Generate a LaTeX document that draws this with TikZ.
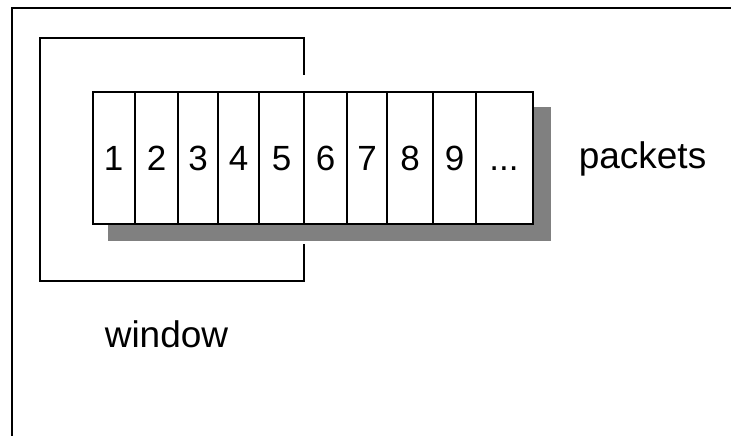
\documentclass[tikz,border=0pt]{standalone}
\usepackage{fontspec}
\setmainfont{Liberation Sans}
\tikzset{
  frameline/.style={line width=1.7pt, black},
  cellbox/.style={draw, line width=1.5pt, fill=white},
  shadowbox/.style={fill=black!50, draw=none},
  celltext/.style={anchor=base, inner sep=0pt, font=\fontsize{35}{40}\selectfont},
  labeltext/.style={anchor=base, inner sep=0pt, font=\fontsize{37}{42}\selectfont},
}
\begin{document}
\begin{tikzpicture}[x=1pt, y=-1pt]
  \useasboundingbox (0,0) rectangle (731,436);

  % outer frame (top and left edges)
  \draw[frameline] (12,436) -- (12,8) -- (731,8);

  % sliding window outline, its right edge hidden behind the packet row
  \coordinate (wTop) at (304,75);
  \coordinate (wBot) at (304,244);
  \draw[frameline] (wTop) -- (304,38) -- (40,38) -- (40,281) -- (304,281) -- (wBot);

  % packet row with drop shadow
  \fill[shadowbox] (108,107) rectangle (551,241);
  \node[cellbox, minimum width=440pt, minimum height=132pt, anchor=north west]
    (row) at (92,91) {};
  \foreach \x in {135,178,218,259,304,347,387,433,476}
    \draw[line width=1.5pt] (\x,91) -- (\x,223);

  % packet numbers
  \node[celltext] (p1) at (113.5,170) {1};
  \node[celltext] (p2) at (156.5,170) {2};
  \node[celltext] (p3) at (198,170) {3};
  \node[celltext] (p4) at (238.5,170) {4};
  \node[celltext] (p5) at (281.5,170) {5};
  \node[celltext] (p6) at (325.5,170) {6};
  \node[celltext] (p7) at (367,170) {7};
  \node[celltext] (p8) at (410,170) {8};
  \node[celltext] (p9) at (454.5,170) {9};
  \node[celltext] (pdots) at (504,170) {...};

  % captions
  \node[labeltext] (packets) at (642.5,168) {packets};
  \node[labeltext] (window) at (166.5,347) {window};
\end{tikzpicture}
\end{document}
